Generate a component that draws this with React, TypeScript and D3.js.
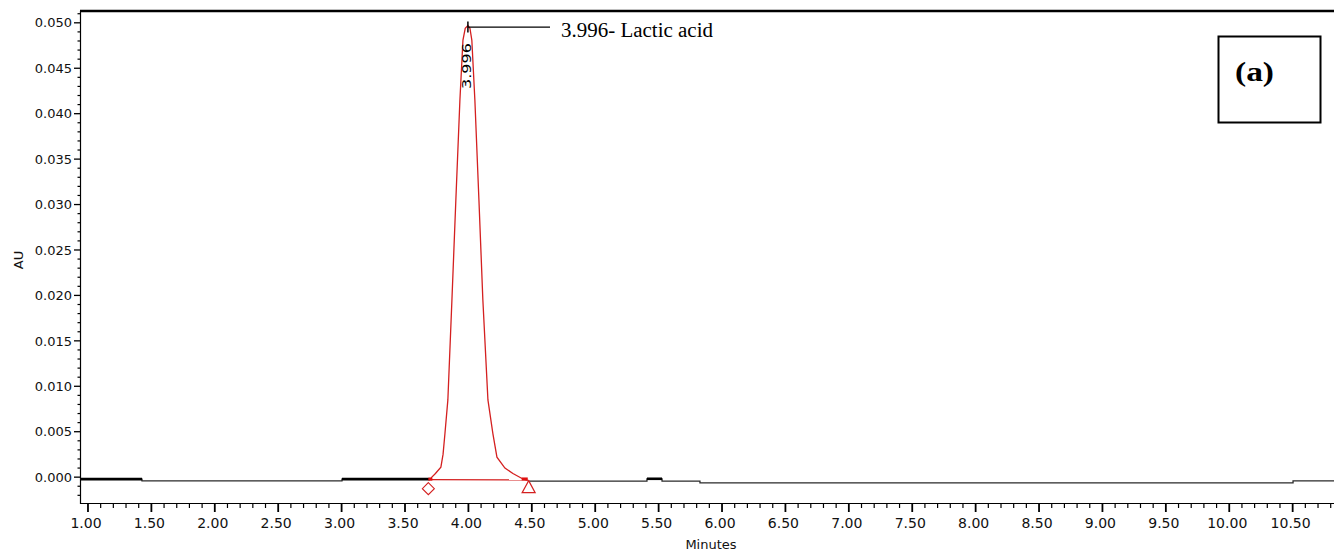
import React from "react";
import * as d3 from "d3";

// ---- data ----
const xMajorTicks = [1.0, 1.5, 2.0, 2.5, 3.0, 3.5, 4.0, 4.5, 5.0, 5.5, 6.0, 6.5, 7.0, 7.5, 8.0, 8.5, 9.0, 9.5, 10.0, 10.5];
const yMajorTicks = [0.0, 0.005, 0.01, 0.015, 0.02, 0.025, 0.03, 0.035, 0.04, 0.045, 0.05];

// red integrated peak (Lactic acid)
const peakTime = [3.696, 3.74, 3.783, 3.8, 3.815, 3.838, 3.87, 3.901, 3.933, 3.957, 3.975, 3.996, 4.012, 4.027, 4.051, 4.083, 4.114, 4.154, 4.193, 4.225, 4.288, 4.351, 4.43, 4.468];
const peakAU = [-0.00022, 0.0004, 0.0011, 0.0025, 0.0048, 0.0085, 0.0195, 0.0305, 0.0415, 0.0481, 0.0494, 0.0497, 0.0494, 0.0481, 0.0415, 0.0305, 0.0195, 0.0085, 0.0048, 0.0022, 0.001, 0.0004, -0.0002, -0.00035];

// black baseline trace, as flat runs
const baseStart = [0.941, 1.426, 3.003, 4.468, 5.408, 5.527, 5.826, 10.503];
const baseEnd = [1.426, 3.003, 3.696, 5.408, 5.527, 5.826, 10.503, 10.826];
const baseAU = [-0.00022, -0.0004, -0.00022, -0.00044, -0.00018, -0.00044, -0.00062, -0.0004];
const baseHeavy = [true, false, true, false, true, false, false, false];

const peakStartTime = 3.696;
const peakEndTime = 4.475;
const apexTime = 3.996;
const apexLabel = "3.996- Lactic acid";
const apexRT = "3.996";
const panelLabel = "(a)";
const xTitle = "Minutes";
const yTitle = "AU";

export default function App() {
  const W = 1334;
  const H = 552;
  const x = d3.scaleLinear().domain([0.941, 10.826]).range([80.5, 1334]);
  const y = d3.scaleLinear().domain([-0.0029, 0.0513]).range([503.5, 11]);
  const axisFont = "'DejaVu Sans', 'Liberation Sans', Arial, sans-serif";
  const serif = "'Liberation Serif', 'Times New Roman', serif";

  const xMinor = d3.range(10, 109).filter((i) => i % 5 !== 0).map((i) => i / 10);
  const yMinor = d3.range(-2, 52).filter((i) => i % 5 !== 0).map((i) => i / 1000);

  const line = d3.line<[number, number]>().x((d) => x(d[0])).y((d) => y(d[1]));
  const peakPts: [number, number][] = peakTime.map((t, i) => [t, peakAU[i]]);

  const tracePts: [number, number][] = [];
  baseStart.forEach((s, i) => {
    tracePts.push([s, baseAU[i]]);
    tracePts.push([baseEnd[i], baseAU[i]]);
  });
  const tracePre = tracePts.slice(0, 6);
  const tracePost = tracePts.slice(6);

  const xBase = y(0) + 2.5;
  const apexX = x(apexTime);
  const apexY = y(peakAU[peakTime.indexOf(apexTime)]);
  const sx = x(peakStartTime);
  const ex = x(peakEndTime);

  return (
    <svg width={W} height={H} style={{ position: "absolute", left: 0, top: 0, background: "#fff" }}>
      <rect x={0} y={0} width={W} height={H} fill="#fff" />
      {/* frame */}
      <line x1={80} x2={1334} y1={11} y2={11} stroke="#000" strokeWidth={2.5} />
      <line x1={80.5} x2={80.5} y1={11} y2={504} stroke="#000" strokeWidth={1.2} />
      <line x1={80} x2={1334} y1={503.5} y2={503.5} stroke="#000" strokeWidth={1.2} />

      {/* y ticks */}
      {yMajorTicks.map((v) => (
        <g key={"ym" + v}>
          <line x1={74} x2={80.5} y1={y(v)} y2={y(v)} stroke="#000" strokeWidth={1.3} />
          <text x={72} y={y(v)} dy="0.36em" textAnchor="end" fontFamily={axisFont} fontSize={13} fill="#111">
            {d3.format(".3f")(v)}
          </text>
        </g>
      ))}
      {yMinor.map((v) => (
        <line key={"yn" + v} x1={77.5} x2={80.5} y1={y(v)} y2={y(v)} stroke="#000" strokeWidth={1.2} />
      ))}

      {/* x ticks */}
      {xMajorTicks.map((v) => (
        <g key={"xm" + v}>
          <line x1={x(v)} x2={x(v)} y1={503.5} y2={512} stroke="#000" strokeWidth={1.8} />
          <text x={x(v) - 2} y={528} textAnchor="middle" fontFamily={axisFont} fontSize={14} fill="#111">
            {d3.format(".2f")(v)}
          </text>
        </g>
      ))}
      {xMinor.map((v) => (
        <line key={"xn" + v} x1={x(v)} x2={x(v)} y1={503.5} y2={508} stroke="#000" strokeWidth={1.2} />
      ))}

      <text x={711} y={549} textAnchor="middle" fontFamily={axisFont} fontSize={13} fill="#111">
        {xTitle}
      </text>
      <text transform={`translate(23,260) rotate(-90)`} textAnchor="middle" fontFamily={axisFont} fontSize={13} fill="#111">
        {yTitle}
      </text>

      {/* baseline trace */}
      <path d={line(tracePre) || ""} fill="none" stroke="#2a2a2a" strokeWidth={1.3} />
      <path d={line(tracePost) || ""} fill="none" stroke="#2a2a2a" strokeWidth={1.3} />
      {baseStart.map((s, i) =>
        baseHeavy[i] ? (
          <line key={"h" + i} x1={x(s)} x2={x(baseEnd[i])} y1={y(baseAU[i])} y2={y(baseAU[i])} stroke="#000" strokeWidth={2.6} />
        ) : null
      )}

      {/* integrated peak */}
      <line x1={sx} x2={x(peakTime[peakTime.length - 1])} y1={y(peakAU[0]) + 0.5} y2={y(-0.0003)} stroke="#d42020" strokeWidth={1.2} />
      <path d={line(peakPts) || ""} fill="none" stroke="#d42020" strokeWidth={1.3} />
      <rect x={x(4.42)} y={y(-0.0002) - 1.5} width={x(peakTime[peakTime.length - 1]) - x(4.42)} height={3} fill="#e01010" />
      <rect x={sx - 1.5} y={y(peakAU[0]) - 1.5} width={4} height={3} fill="#e01010" />
      {/* start marker (diamond) */}
      <path
        d={`M${sx - 1.5},${xBase + 3} l6,6 l-6,6 l-6,-6 z`}
        fill="#fff"
        stroke="#d42020"
        strokeWidth={1.1}
      />
      {/* end marker (triangle) */}
      <path d={`M${ex},${xBase + 1} l6.5,12 l-13,0 z`} fill="#fff" stroke="#d42020" strokeWidth={1.2} />

      {/* apex annotation */}
      <line x1={apexX} x2={apexX} y1={apexY - 4} y2={apexY + 7} stroke="#000" strokeWidth={1.5} />
      <line x1={apexX} x2={550} y1={apexY + 1.5} y2={apexY + 1.5} stroke="#000" strokeWidth={1.2} />
      <text x={561} y={37} fontFamily={serif} fontSize={20} textLength={152} lengthAdjust="spacingAndGlyphs" fill="#000">
        {apexLabel}
      </text>
      <text
        transform={`translate(${apexX + 3},${66}) rotate(-90)`}
        textAnchor="middle"
        fontFamily={axisFont}
        fontSize={12.5}
        textLength={46}
        lengthAdjust="spacingAndGlyphs"
        fill="#000"
      >
        {apexRT}
      </text>

      {/* panel label box */}
      <rect x={1218.5} y={36.5} width={102} height={86} fill="#fff" stroke="#000" strokeWidth={2} />
      <text x={1235} y={81} fontFamily={serif} fontWeight="bold" fontSize={27} textLength={39} lengthAdjust="spacingAndGlyphs" fill="#000">
        {panelLabel}
      </text>
    </svg>
  );
}
